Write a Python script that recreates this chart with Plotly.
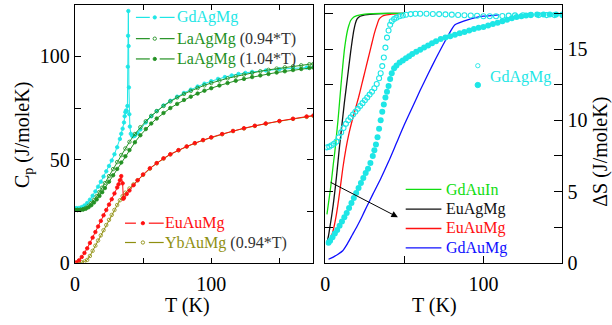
import plotly.graph_objects as go

W, H = 612, 325
FONT = "Liberation Serif"

# ---------------- Left panel: Cp (J/moleK) vs T (K) ----------------
gd_T = [1, 3, 5, 7, 9, 11, 13, 15, 17, 19, 21, 23, 25, 27, 29, 31, 33, 34, 35, 36, 36.5, 37, 37.5, 38,
         38.5, 38.8, 39.0, 39.2, 39.4, 39.6, 39.9, 40.3, 41, 42, 43, 44, 46, 48, 52, 56, 60, 65, 70,
         75, 80, 85, 90, 95, 100, 105, 110, 115, 120, 125, 130, 140, 150, 160, 170, 175]
gd_C = [26.5, 26.6, 27.0, 27.8, 29.0, 30.6, 32.5, 34.6, 36.9, 39.3, 41.8, 44.3, 46.9, 49.6, 52.6, 56.0,
        60.0, 62.5, 65.0, 68.0, 71.0, 73.0, 73.8, 73.5, 76, 95, 110, 122, 105, 85, 72, 66, 62.5, 61.5,
        61.3, 61.6, 62.8, 64.6, 68.0, 71.0, 73.5, 76.2, 78.5, 80.5, 82.3, 83.9, 85.4, 86.8, 88.0, 89.1,
        90.0, 90.8, 91.5, 92.0, 92.5, 93.2, 93.8, 94.2, 94.6, 94.8]

la094_T = [0, 2, 4, 6, 8, 10, 12, 14, 16, 18, 20, 22, 25, 28, 31, 34, 37, 40, 44, 48, 52, 56, 60, 65,
           70, 75, 80, 85, 90, 95, 100, 106, 112, 118, 124, 130, 136, 142, 148, 154, 160, 166, 172, 175]
la094_C = [25.6, 25.6, 25.7, 26.0, 26.6, 27.6, 28.9, 30.5, 32.3, 34.3, 36.4, 38.6, 42.0, 45.4, 48.8,
           52.2, 55.4, 58.6, 62.4, 65.7, 68.6, 71.2, 73.5, 76.0, 78.2, 80.1, 81.8, 83.3, 84.7, 86.0,
           87.1, 88.3, 89.4, 90.3, 91.2, 92.0, 92.8, 93.5, 94.1, 94.7, 95.2, 95.7, 96.2, 96.4]

la104_T = la094_T
la104_C = [25.6, 25.6, 25.6, 25.8, 26.2, 26.9, 27.9, 29.2, 30.7, 32.4, 34.2, 36.2, 39.3, 42.4, 45.5,
           48.6, 51.6, 54.6, 58.4, 61.8, 64.8, 67.5, 69.9, 72.6, 75.0, 77.0, 78.9, 80.5, 82.0, 83.4,
           84.6, 85.9, 87.1, 88.2, 89.1, 90.0, 90.8, 91.5, 92.2, 92.8, 93.4, 93.9, 94.4, 94.6]

eu_T = [1, 3, 5, 7, 9, 11, 13, 15, 17, 19, 21, 23, 25, 27, 29, 31, 32, 33, 34, 35, 35.5, 36, 38, 40,
        43, 46, 50, 55, 60, 65, 70, 76, 82, 88, 94, 100, 108, 116, 124, 132, 140, 150, 160, 170, 175]
eu_C = [0.2, 1.2, 2.8, 4.8, 7.0, 9.6, 12.2, 14.9, 17.6, 20.3, 23.0, 25.6, 28.2, 30.8, 33.6, 36.5, 38.0,
        40.0, 42.0, 38.5, 31.0, 31.5, 33.3, 35.0, 37.6, 40.0, 42.8, 45.8, 48.3, 50.6, 52.6, 54.6, 56.4,
        58.0, 59.5, 60.8, 62.4, 63.9, 65.2, 66.4, 67.5, 68.7, 69.8, 70.9, 71.4]

yb_T = [1, 3, 5, 7, 9, 11, 13, 15, 17, 19, 21, 23, 25, 27, 29, 31, 33, 35, 37, 40, 43, 46, 50, 55, 60,
        65, 70, 76, 82, 88, 94, 100, 108, 116, 124, 132, 140, 150, 160, 170, 175]
yb_C = [0.0, 0.0, 0.2, 0.6, 1.4, 3.3, 5.8, 8.3, 10.8, 13.3, 15.8, 18.3, 20.8, 23.2, 25.6, 28.0, 30.3,
        32.3, 34.0, 36.0, 38.0, 40.0, 42.6, 45.6, 48.2, 50.5, 52.5, 54.5, 56.3, 57.9, 59.4, 60.7, 62.3,
        63.8, 65.1, 66.3, 67.4, 68.6, 69.7, 70.7, 71.2]

# ---------------- Right panel: Delta S (J/moleK) vs T (K) ----------------
gdauin_T = [1, 2, 3, 4, 5, 6, 7, 8, 9, 10, 11, 12, 13, 14, 15, 16, 18, 20, 25, 30, 40, 50]
gdauin_S = [3.4, 4.2, 5.0, 5.9, 6.9, 7.8, 8.9, 10.0, 11.3, 12.6, 13.8, 14.9, 15.7, 16.3, 16.7, 17.0,
            17.25, 17.35, 17.45, 17.48, 17.5, 17.5]

euagmg_T = [1, 2, 3, 4, 5, 6, 7, 8, 9, 10, 11, 12, 13, 14, 15, 16, 17, 18, 19, 20, 22, 25, 30, 40, 50]
euagmg_S = [1.4, 1.9, 2.6, 3.3, 4.1, 5.0, 6.0, 7.1, 8.2, 9.2, 10.2, 11.2, 12.1, 13.0, 13.9, 14.8, 15.6,
            16.3, 16.8, 17.1, 17.3, 17.4, 17.45, 17.5, 17.5]

euaumg_T = [1, 3, 5, 7, 9, 11, 13, 15, 17, 19, 21, 23, 25, 27, 29, 31, 33, 34, 36, 38, 40, 45, 50]
euaumg_S = [1.3, 1.6, 2.3, 3.4, 4.9, 6.6, 8.0, 9.1, 10.0, 10.8, 11.6, 12.5, 13.4, 14.3, 15.2, 16.1,
            16.8, 17.1, 17.3, 17.38, 17.42, 17.47, 17.5]

gdaumg_T = [2, 5, 8, 11, 14, 17, 20, 23, 26, 30, 35, 40, 45, 50, 55, 60, 65, 70, 75, 80, 82, 85, 90,
            95, 100, 110]
gdaumg_S = [0.25, 0.4, 0.6, 0.85, 1.35, 1.95, 2.55, 3.2, 3.9, 4.8, 5.9, 7.1, 8.4, 9.7, 10.9, 12.1,
            13.25, 14.35, 15.4, 16.4, 16.7, 16.85, 17.05, 17.2, 17.3, 17.4]

gdagmg_open_T = [1, 2.5, 4, 5.5, 7, 8.5, 10, 11.5, 13, 14.5, 16, 17.5, 19, 20.5, 22, 23.5, 25, 26.5, 28,
                 29.5, 31, 32.5, 34, 35, 36, 37, 38, 39, 40, 41, 42, 43.5, 45, 47, 49, 51, 54, 57, 60,
                 64, 68, 72, 76, 80, 84, 88, 92, 96, 100, 104, 108, 112, 116, 120, 125, 130, 135, 140,
                 145, 150]
gdagmg_open_S = [8.1, 8.15, 8.25, 8.35, 8.5, 8.8, 9.15, 9.45, 9.75, 10.0, 10.2, 10.4, 10.6, 10.8, 11.0,
                 11.2, 11.4, 11.6, 11.8, 12.0, 12.25, 12.55, 12.95, 13.3, 13.8, 14.4, 15.1, 15.8, 16.3,
                 16.7, 16.95, 17.1, 17.2, 17.3, 17.35, 17.4, 17.45, 17.47, 17.47, 17.47, 17.46, 17.45,
                 17.43, 17.41, 17.39, 17.37, 17.35, 17.33, 17.3, 17.3, 17.3, 17.32, 17.34, 17.36, 17.37,
                 17.38, 17.38, 17.38, 17.38, 17.38]

gdagmg_fill_T = [2, 3, 4.5, 6, 7.5, 9, 10.5, 12, 13.5, 15, 16.5, 18, 19.5, 21, 22.5, 24, 25.5, 27, 28.5,
                 30, 31, 32, 33, 34, 35, 36, 37, 38, 39, 40, 41, 42, 43.5, 45, 47, 49, 51, 53, 55, 57.5,
                 60, 62.5, 65, 67.5, 70, 73, 76, 79, 82, 85, 88, 91, 94, 97, 100, 103, 106, 109, 112,
                 115, 118, 121, 124, 127, 130, 134, 138, 142, 146, 150]
gdagmg_fill_S = [1.4, 1.55, 1.8, 2.05, 2.3, 2.6, 2.9, 3.2, 3.5, 3.85, 4.2, 4.55, 4.9, 5.25, 5.6, 5.95,
                 6.3, 6.6, 7.0, 7.5, 7.9, 8.3, 8.8, 9.4, 10.0, 10.6, 11.1, 11.6, 12.0, 12.4, 12.9, 13.3,
                 13.65, 13.85, 14.05, 14.2, 14.35, 14.5, 14.65, 14.8, 14.95, 15.1, 15.25, 15.4, 15.55,
                 15.7, 15.8, 15.9, 16.0, 16.1, 16.2, 16.3, 16.4, 16.5, 16.55, 16.65, 16.75, 16.85, 16.95,
                 17.05, 17.15, 17.25, 17.3, 17.35, 17.4, 17.42, 17.42, 17.42, 17.42, 17.42]

left_xticks = [0, 50, 100, 150]
left_xlabels = ["0", "", "100", ""]
left_yticks = [0, 25, 50, 75, 100, 125]
left_ylabels = ["0", "", "50", "", "100", ""]
right_xticks = [0, 50, 100, 150]
right_xlabels = ["0", "", "100", ""]
right_yticks = [0, 2.5, 5, 7.5, 10, 12.5, 15, 17.5]
right_ylabels = ["0", "", "5", "", "10", "", "15", ""]

CYAN = "#1ee6e6"
DGREEN = "#239123"
RED = "#ff1010"
OLIVE = "#8f8f10"
BGREEN = "#10dd10"
BLUE = "#1010ff"


def px(x):
    return x / W


def py(y):
    return 1 - y / H


fig = go.Figure()


def lm(x, y, color, symbol, size, xa="x", ya="y", lw=1):
    fig.add_trace(go.Scatter(x=x, y=y, mode="lines+markers", xaxis=xa, yaxis=ya,
                             line=dict(color=color, width=lw),
                             marker=dict(color=color, symbol=symbol, size=size,
                                         line=dict(color=color, width=0.8)),
                             showlegend=False))


lm(gd_T, gd_C, CYAN, "circle", 3.5)
lm(la094_T, la094_C, DGREEN, "circle-open", 3.5)
lm(la104_T, la104_C, DGREEN, "circle", 3.5)
lm(yb_T, yb_C, OLIVE, "circle-open", 3.5)
lm(eu_T, eu_C, RED, "circle", 3.5)

for tx, sy, c in [(gdaumg_T, gdaumg_S, BLUE), (euaumg_T, euaumg_S, RED),
                  (euagmg_T, euagmg_S, "#111111"), (gdauin_T, gdauin_S, BGREEN)]:
    fig.add_trace(go.Scatter(x=tx, y=sy, mode="lines", xaxis="x2", yaxis="y2",
                             line=dict(color=c, width=1.3, shape="spline", smoothing=0.6),
                             showlegend=False))
fig.add_trace(go.Scatter(x=gdagmg_open_T, y=gdagmg_open_S, mode="markers", xaxis="x2", yaxis="y2",
                         marker=dict(symbol="circle-open", size=5, color=CYAN, line=dict(width=1.1, color=CYAN)),
                         showlegend=False))
fig.add_trace(go.Scatter(x=gdagmg_fill_T, y=gdagmg_fill_S, mode="markers", xaxis="x2", yaxis="y2",
                         marker=dict(symbol="circle", size=6, color=CYAN),
                         showlegend=False))

tickfont = dict(family=FONT, size=20, color="black")
common = dict(showline=True, linecolor="black", linewidth=1.2, mirror="ticks", ticks="inside",
              tickcolor="black", tickwidth=1.1, showgrid=False, zeroline=False, tickfont=tickfont,
              tickmode="array")

Y0 = 272
fig.update_layout(
    width=W, height=H, margin=dict(l=0, r=0, t=0, b=0),
    paper_bgcolor="white", plot_bgcolor="white",
    font=dict(family=FONT),
    xaxis=dict(domain=[px(70.5), px(311)], range=[0, 175], anchor="y", tickvals=left_xticks,
               ticktext=left_xlabels, ticklen=5, ticklabelstandoff=3, **common),
    yaxis=dict(domain=[py(Y0), py(5)], range=[0, 125], anchor="x", tickvals=left_yticks,
               ticktext=left_ylabels, ticklen=6, **common),
    xaxis2=dict(domain=[px(323), px(562)], range=[0, 150], anchor="y2", tickvals=right_xticks,
                ticktext=right_xlabels, ticklen=7, ticklabelstandoff=3, **common),
    yaxis2=dict(domain=[py(Y0), py(5)], range=[0, 18.1], anchor="x2", side="right",
                tickvals=right_yticks, ticktext=right_ylabels, ticklen=8, **common),
)

ann = []
shapes = []


def text(x, y, s, color, size=16, angle=0, xanchor="left"):
    ann.append(dict(x=px(x), y=py(y), xref="paper", yref="paper", text=s, showarrow=False,
                    font=dict(family=FONT, size=size, color=color), xanchor=xanchor,
                    yanchor="middle", textangle=angle))


text(184, 316, "T (K)", "black", 20, xanchor="center")
text(433, 316, "T (K)", "black", 20, xanchor="center")
text(18, 140, "C<sub>p</sub> (J/moleK)", "black", 20, -90, xanchor="center")
text(601, 157, "ΔS (J/moleK)", "black", 20, -90, xanchor="center")


def seg(x0, x1, y, color, w=1.2):
    shapes.append(dict(type="line", xref="paper", yref="paper", x0=px(x0), x1=px(x1), y0=py(y), y1=py(y),
                       line=dict(color=color, width=w)))


def dot(x, y, r, color, filled=True):
    shapes.append(dict(type="circle", xref="paper", yref="paper", x0=px(x - r), x1=px(x + r),
                       y0=py(y + r), y1=py(y - r), line=dict(color=color, width=0.9),
                       fillcolor=color if filled else "white"))


for y, c, filled, name, extra in [(18, CYAN, True, "GdAgMg", ""),
                                  (40, DGREEN, False, "LaAgMg", " (0.94*T)"),
                                  (61, DGREEN, True, "LaAgMg", " (1.04*T)")]:
    seg(132, 146, y, c)
    seg(156, 171, y, c)
    dot(151, y, 1.7, c, filled)
    s = f'<span style="color:{c}">{name}</span>'
    if extra:
        s += f'<span style="color:#333333">{extra}</span>'
    text(171, y, s, c, 16)

for y, c, filled, name, extra in [(231, RED, True, "EuAuMg", ""),
                                  (251, OLIVE, False, "YbAuMg", " (0.94*T)")]:
    seg(121, 132, y, c)
    seg(145, 160, y, c)
    dot(139, y, 1.7, c, filled)
    s = f'<span style="color:{c}">{name}</span>'
    if extra:
        s += f'<span style="color:#333333">{extra}</span>'
    text(159, y, s, c, 16)

for y, c, name in [(196, BGREEN, "GdAuIn"), (216.5, "#111111", "EuAgMg"),
                   (236.5, RED, "EuAuMg"), (256.5, BLUE, "GdAuMg")]:
    seg(404, 440, y, c, 1.3)
    text(443, y, name, c, 16)

dot(476.7, 68, 2.2, CYAN, False)
dot(476.7, 88, 2.8, CYAN, True)
text(487, 80, "GdAgMg", CYAN, 16)

ann.append(dict(x=45.9, y=3.2, xref="x2", yref="y2", ax=2.4, ay=5.7, axref="x2", ayref="y2",
                showarrow=True, arrowhead=2, arrowsize=1.3, arrowwidth=1, arrowcolor="black", text=""))

fig.update_layout(annotations=ann, shapes=shapes)
fig.write_html("out.html")
